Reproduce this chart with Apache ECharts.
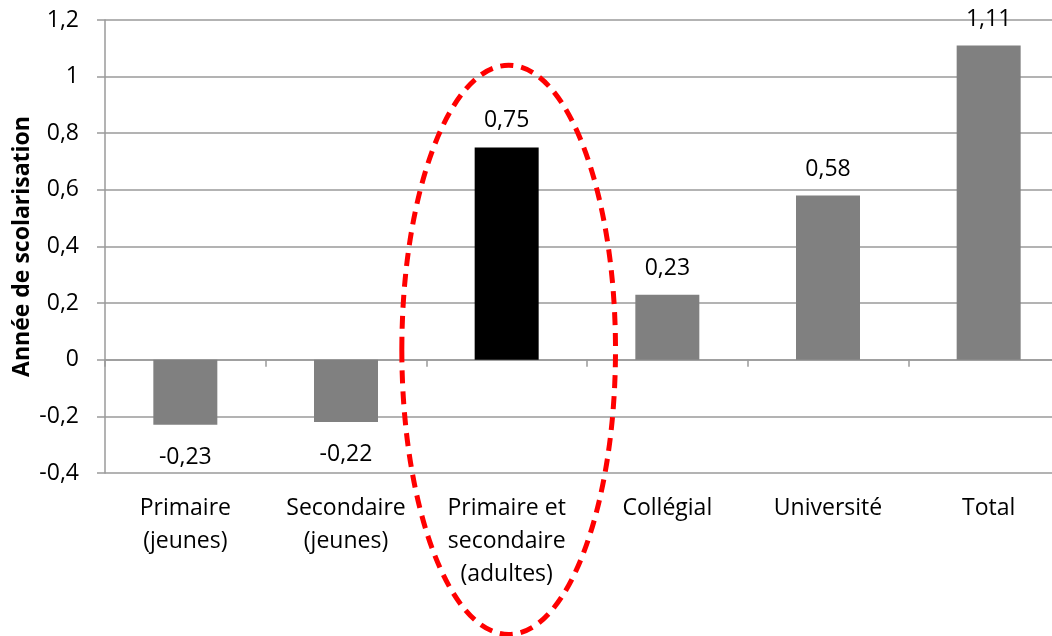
<!DOCTYPE html>
<html>
<head>
<meta charset="utf-8">
<script src="https://cdn.jsdelivr.net/npm/echarts@6/dist/echarts.min.js"></script>
<style>
html,body{margin:0;padding:0;background:#fff;}
#c{width:1052px;height:636px;}
</style>
</head>
<body>
<div id="c"></div>
<script>
const categories = ['Primaire\n(jeunes)', 'Secondaire\n(jeunes)', 'Primaire et\nsecondaire\n(adultes)', 'Collégial', 'Université', 'Total'];
const values = [-0.23, -0.22, 0.75, 0.23, 0.58, 1.11];
const highlightIndex = 2;
const yTicks = { min: -0.4, max: 1.2, interval: 0.2 };
const yAxisTitle = 'Année de scolarisation';
// annotation ellipse extent in data units (around highlighted category)
const ellipseValueRange = [-0.97, 1.04];
const ellipseBandFraction = 1.33;

const FONT = '"Open Sans", sans-serif';
const fmt = v => String(Math.round(v * 100) / 100).replace('.', ',');

const chart = echarts.init(document.getElementById('c'), null, { renderer: 'canvas' });

const option = {
  animation: false,
  backgroundColor: '#ffffff',
  grid: { left: 105, width: 964, top: 20, bottom: 163, containLabel: false, outerBoundsMode: 'none' },
  xAxis: [
    {
      type: 'category',
      data: categories,
      position: 'top',
      boundaryGap: true,
      axisLine: { show: true, onZero: true, lineStyle: { color: '#9a9a9a', width: 1.5 } },
      axisTick: { show: true, inside: true, length: 7, alignWithLabel: false, lineStyle: { color: '#9a9a9a', width: 1.5 } },
      axisLabel: { show: false },
      splitLine: { show: false }
    },
    {
      type: 'category',
      data: categories,
      position: 'bottom',
      boundaryGap: true,
      axisLine: { show: false, onZero: false },
      axisTick: { show: false },
      axisLabel: { show: true, color: '#000', fontFamily: FONT, fontSize: 23, lineHeight: 33, margin: 19, interval: 0 },
      splitLine: { show: false }
    }
  ],
  yAxis: {
    type: 'value',
    min: yTicks.min,
    max: yTicks.max,
    interval: yTicks.interval,
    name: yAxisTitle,
    nameLocation: 'middle',
    nameGap: 83,
    nameMoveOverlap: false,
    nameRotate: 90,
    nameTextStyle: { color: '#000', fontFamily: FONT, fontSize: 23, fontWeight: 'bold', verticalAlign: 'middle' },
    axisLine: { show: true, lineStyle: { color: '#9a9a9a', width: 1.5 } },
    axisTick: { show: true, inside: false, length: 8, lineStyle: { color: '#9a9a9a', width: 1.5 } },
    axisLabel: { color: '#000', fontFamily: FONT, fontSize: 23, margin: 26, formatter: fmt },
    splitLine: { show: true, lineStyle: { color: '#9a9a9a', width: 1.5 } }
  },
  series: [{
    type: 'bar',
    xAxisIndex: 1,
    yAxisIndex: 0,
    barWidth: 64,
    data: values.map((v, i) => ({
      value: v,
      itemStyle: { color: i === highlightIndex ? '#000000' : '#808080' },
      label: { position: v < 0 ? 'bottom' : 'top', distance: v < 0 ? 21 : 15 }
    })),
    label: {
      show: true,
      color: '#000',
      fontFamily: FONT,
      fontSize: 23,
      formatter: p => fmt(p.value)
    }
  }]
};

chart.setOption(option);

// Red dashed ellipse around highlighted category, positioned from axis scales
const cat = categories[highlightIndex];
const pTop = chart.convertToPixel({ xAxisIndex: 1, yAxisIndex: 0 }, [cat, ellipseValueRange[1]]);
const pBot = chart.convertToPixel({ xAxisIndex: 1, yAxisIndex: 0 }, [cat, ellipseValueRange[0]]);
const pNext = chart.convertToPixel({ xAxisIndex: 1, yAxisIndex: 0 }, [categories[highlightIndex + 1], 0]);
const band = pNext[0] - pTop[0];
chart.setOption({
  graphic: [{
    type: 'ellipse',
    z: 100,
    shape: { cx: pTop[0] + 2, cy: (pTop[1] + pBot[1]) / 2, rx: band * ellipseBandFraction / 2, ry: (pBot[1] - pTop[1]) / 2 },
    style: { fill: 'none', stroke: '#ff0000', lineWidth: 5, lineDash: [13, 8] }
  }]
});
</script>
</body>
</html>
